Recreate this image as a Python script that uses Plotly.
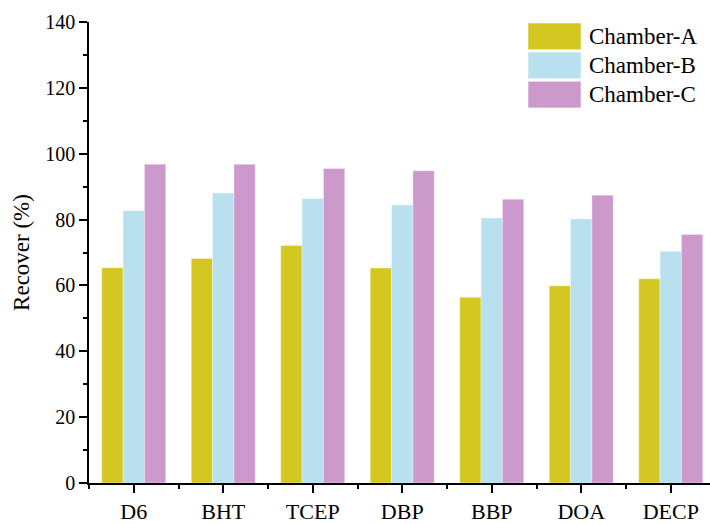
import plotly.graph_objects as go

categories = ["D6", "BHT", "TCEP", "DBP", "BBP", "DOA", "DECP"]
chamber_a = [65.4, 68.2, 72.1, 65.3, 56.4, 59.9, 62.0]
chamber_b = [82.7, 88.1, 86.4, 84.4, 80.5, 80.2, 70.4]
chamber_c = [96.8, 96.8, 95.5, 94.8, 86.2, 87.4, 75.5]
series_names = ["Chamber-A", "Chamber-B", "Chamber-C"]
colors = ["#D5C721", "#B8E0EE", "#CC99CC"]
y_ticks = [0, 20, 40, 60, 80, 100, 120, 140]

W, H = 710, 524
L, R, T, B = 89, 0, 22, 35
pw, ph = W - L - R, H - T - B

FONT = "Liberation Serif, Times New Roman, serif"
xpos = list(range(len(categories)))

fig = go.Figure()
for name, vals, col in zip(series_names, [chamber_a, chamber_b, chamber_c], colors):
    fig.add_trace(go.Bar(x=xpos, y=vals, name=name,
                         marker=dict(color=col, line=dict(width=0.6, color="rgba(255,255,255,0.6)")),
                         showlegend=False))

# custom legend (swatch + label)
def px2paper(x, y):
    return (x - L) / pw, (H - B - y) / ph

for i, (name, col) in enumerate(zip(series_names, colors)):
    top = 23 + i * 29.5
    bot = top + 27
    x0, y0 = px2paper(528, bot)
    x1, y1 = px2paper(581, top)
    fig.add_shape(type="rect", xref="paper", yref="paper", x0=x0, x1=x1, y0=y0, y1=y1,
                  fillcolor=col, line=dict(width=0.8, color="rgba(255,255,255,0.7)"))
    tx, ty = px2paper(587, (top + bot) / 2)
    fig.add_annotation(xref="paper", yref="paper", x=tx, y=ty, text=name, showarrow=False,
                       xanchor="left", yanchor="middle", font=dict(family=FONT, size=23, color="black"))

fig.update_layout(
    width=W, height=H,
    margin=dict(l=L, r=R, t=T, b=B),
    paper_bgcolor="white", plot_bgcolor="white",
    barmode="group", bargap=0.285, bargroupgap=0,
    font=dict(family=FONT, size=20, color="black"),
    xaxis=dict(
        range=[-0.5, -0.5 + pw / 89.5],
        tickmode="array", tickvals=xpos, ticktext=categories,
        ticks="outside", ticklen=8, tickwidth=1.5, tickcolor="black",
        minor=dict(tickmode="linear", tick0=0.5, dtick=1, ticks="outside", ticklen=4, tickwidth=1.5, tickcolor="black"),
        showline=True, linecolor="black", linewidth=1.5,
        showgrid=False, zeroline=False,
        tickfont=dict(family=FONT, size=22, color="black"),
    ),
    yaxis=dict(
        range=[0, 140], tickmode="array", tickvals=y_ticks,
        ticks="outside", ticklen=8, tickwidth=1.5, tickcolor="black",
        minor=dict(tickmode="linear", tick0=0, dtick=10, ticks="outside", ticklen=4, tickwidth=1.5, tickcolor="black"),
        showline=True, linecolor="black", linewidth=1.5,
        showgrid=False, zeroline=False,
        tickfont=dict(family=FONT, size=20, color="black"),
        title=dict(text="Recover (%)", font=dict(family=FONT, size=23, color="black"), standoff=9),
    ),
)

fig.write_html("out.html", config={"displayModeBar": False},
               post_script="document.body.style.margin='0px';document.body.style.overflow='hidden';")
